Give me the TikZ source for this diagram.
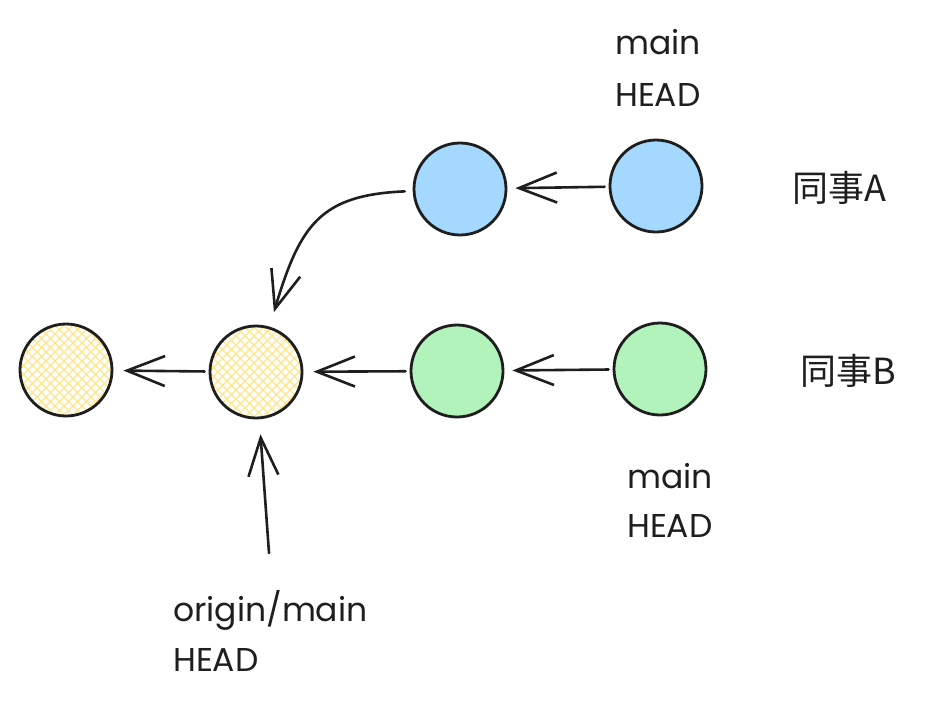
\documentclass[tikz,border=0pt]{standalone}
\usepackage{fontspec}
\setmainfont{Poppins}
\newfontfamily\cjk{Noto Sans CJK SC}
\usetikzlibrary{arrows.meta}
\definecolor{ink}{HTML}{1E1E1E}
\definecolor{cblue}{HTML}{A5D8FF}
\definecolor{cgreen}{HTML}{B2F2BB}
\definecolor{cyell}{HTML}{FFE58A}
\tikzset{
  commit/.style={circle, draw=ink, line width=2.8pt, minimum size=92pt, inner sep=0pt},
  bluec/.style={commit, fill=cblue},
  greenc/.style={commit, fill=cgreen},
  yellc/.style={commit, fill=white, path picture={
      \foreach \d in {-110,-101,...,110}{
        \draw[cyell, line width=1.1pt] ([xshift=\d pt]path picture bounding box.center) ++(-70pt,-70pt) -- ++(140pt,140pt);
        \draw[cyell, line width=1.1pt] ([xshift=\d pt]path picture bounding box.center) ++(-70pt,70pt) -- ++(140pt,-140pt);
      }}},
  arr/.style={draw=ink, line width=2.6pt, line cap=round,
     -{Straight Barb[length=38pt, width=30pt, line width=2.6pt]},
     shorten >=8pt, shorten <=4pt},
  lbl/.style={font=\fontsize{33}{33}\selectfont, text=ink, inner sep=0pt, anchor=base west},
  cjklbl/.style={font=\cjk\fontsize{36}{36}\selectfont, text=ink, inner sep=0pt, anchor=base west}
}
\begin{document}
\begin{tikzpicture}[x=1pt, y=-1pt]
\useasboundingbox (0,0) rectangle (929,705);
% commits
\node[yellc]  (y1) at (66,370) {};
\node[yellc]  (y2) at (256,372) {};
\node[greenc] (g1) at (457,371) {};
\node[greenc] (g2) at (660,369) {};
\node[bluec]  (b1) at (460,189) {};
\node[bluec]  (b2) at (656,186) {};
% connectors
\draw[arr] (g2) -- (g1);
\draw[arr, shorten >=10pt] (g1) -- (y2);
\draw[arr, shorten >=10pt] (y2) -- (y1);
\draw[arr] (b2) -- (b1);
\draw[arr, shorten <=8pt, shorten >=15pt] (b1) .. controls (320,195) and (300,225) .. (y2);
\coordinate (om) at (269,553);
\draw[arr, shorten <=0pt, shorten >=15pt] (om) -- (y2);
% labels
\node[lbl] (amain) at (615,54) {main};
\node[lbl] (ahead) at (615,106) {HEAD};
\node[cjklbl] (ca) at (792,201) {同事A};
\node[cjklbl] (cb) at (800,384) {同事B};
\node[lbl] (bmain) at (627,488) {main};
\node[lbl] (bhead) at (627,537) {HEAD};
\node[lbl] (omain) at (173,621) {origin/main};
\node[lbl] (ohead) at (173,671) {HEAD};
\end{tikzpicture}
\end{document}
